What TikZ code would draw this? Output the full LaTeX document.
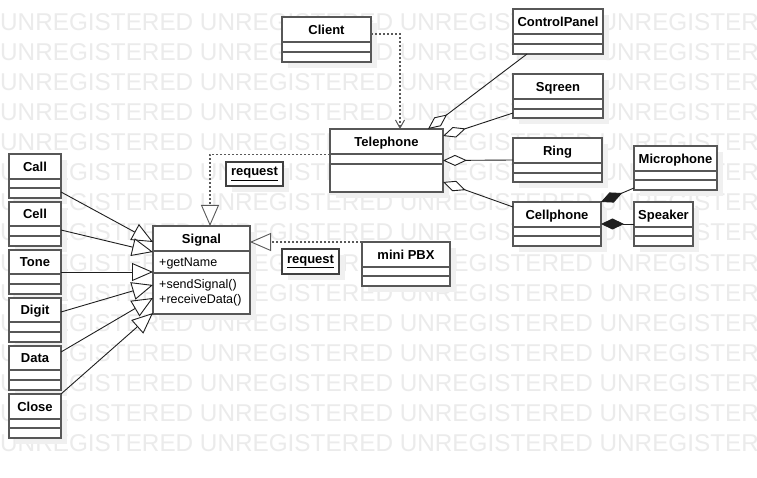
\documentclass[tikz,border=0pt]{standalone}
\usepackage{fontspec}
\setmainfont{Liberation Sans}
\usetikzlibrary{arrows.meta,fit,calc}
\newcommand\umlbox[8]{%
  \fill[shadowc] (#2+6,#3+6) rectangle (#4+6,#5+6);
  \node[clsbox, fit={(#2,#3) (#4,#5)}] (#1) {};
  \draw[clsline] (#2,#6) -- (#4,#6) (#2,#7) -- (#4,#7);
  \node[clstitle, anchor=base] at ({(#2+#4)/2},{(#3+#6)/2+4.7}) {#8};
}
\begin{document}
\begin{tikzpicture}[x=1pt,y=-1pt,
  clsbox/.style={draw=black!66, line width=1.5pt, fill=white, inner sep=0pt, outer sep=0pt},
  clsline/.style={draw=black!66, line width=1.5pt},
  shadowc/.style={fill=black!6},
  clstitle/.style={font=\fontsize{13}{15}\selectfont\bfseries, inner sep=0pt},
  member/.style={font=\fontsize{12.5}{14}\selectfont, inner sep=0pt, anchor=base west},
  wm/.style={font=\fontsize{24.3}{24.3}\selectfont, text=black!8, inner sep=0pt, anchor=base west},
  conn/.style={draw=black!88, line width=0.9pt},
  dep/.style={draw=black!65, line width=1.4pt, dash pattern=on 2pt off 2pt},
  gen/.style={conn, -{Triangle[length=21pt,width=18pt,fill=white]}},
  real/.style={dep, -{Triangle[length=21pt,width=18pt,fill=white,line width=0.9pt]}},
  use/.style={dep, -{Straight Barb[length=8pt,width=9pt,line width=1pt]}},
  agg/.style={conn, {Diamond[length=24pt,width=11pt,fill=white]}-},
  comp/.style={conn, {Diamond[length=23pt,width=11pt]}-},
  lblbox/.style={draw=black!75, line width=1.4pt, fill=white, inner sep=0pt, outer sep=0pt,
    font=\fontsize{13}{15}\selectfont\bfseries}
]
\useasboundingbox (0,0) rectangle (757,478);
\clip (0,0) rectangle (757,478);
\fill[white] (0,0) rectangle (757,478);
% watermark
\foreach \k in {0,...,14}
  \node[wm] (wm\k) at (0,{31+30*\k}) {UNREGISTERED UNREGISTERED UNREGISTERED UNREGISTERED};

% classes
\umlbox{client}{282}{17}{371}{62}{42}{52}{Client}
\umlbox{controlpanel}{513}{9}{603}{54}{34}{44}{ControlPanel}
\umlbox{sqreen}{513}{74}{603}{118}{99}{109}{Sqreen}
\umlbox{telephone}{330}{129}{443}{192}{154}{164}{Telephone}
\umlbox{ring}{513}{138}{602}{182}{163}{173}{Ring}
\umlbox{microphone}{634}{146}{717}{190}{171}{180}{Microphone}
\umlbox{cellphone}{513}{202}{601}{246}{227}{236}{Cellphone}
\umlbox{speaker}{634}{202}{693}{246}{227}{236}{Speaker}
\umlbox{call}{9}{154}{61}{198}{179}{188}{Call}
\umlbox{cell}{9}{202}{61}{246}{226}{236}{Cell}
\umlbox{tone}{9}{250}{61}{294}{274}{284}{Tone}
\umlbox{digit}{9}{298}{61}{342}{322}{332}{Digit}
\umlbox{data}{9}{346}{61}{390}{370}{380}{Data}
\umlbox{close}{9}{394}{61}{438}{419}{428}{Close}
\umlbox{signal}{153}{226}{250}{314}{251}{273}{Signal}
\umlbox{minipbx}{362}{242}{450}{286}{267}{276}{mini PBX}

\node[member] (m1) at (159,266) {+getName};
\node[member] (m2) at (159,288) {+sendSignal()};
\node[member] (m3) at (159,303.5) {+receiveData()};

% request labels
\fill[shadowc] (232,168) rectangle (289,192);
\node[lblbox, minimum width=57pt, minimum height=24pt] (req1) at (254.5,174) {\underline{request}};
\fill[shadowc] (288,255) rectangle (345,280);
\node[lblbox, minimum width=57pt, minimum height=25pt] (req2) at (310.5,261.5) {\underline{request}};

% dependencies
\draw[use] ([yshift=5.5pt]client.east) -| ([xshift=13.5pt]telephone.north);
\draw[real] ([yshift=6pt]telephone.west) -| ([xshift=8.5pt]signal.north);
\draw[real] (minipbx.north west) -- (signal.east |- minipbx.north west);

% generalizations
\draw[gen] ([yshift=6pt]call.south east) -- ([yshift=-16pt]signal.north west);
\draw[gen] ([yshift=16pt]cell.south east) -- ([yshift=-26pt]signal.north west);
\draw[gen] (tone.east) -- (signal.west |- tone.east);
\draw[gen] ([yshift=8pt]digit.east) -- ([yshift=-59pt]signal.north west);
\draw[gen] ([yshift=-6pt]data.north east) -- ([yshift=16pt]signal.south west);
\draw[gen] (close.north east) -- ([yshift=1pt]signal.south west);

% aggregations
\draw[agg] ([xshift=-15pt]telephone.north east) -- ([xshift=14pt]controlpanel.south west);
\draw[agg] ([yshift=-7pt]telephone.north east) -- ([yshift=5pt]sqreen.south west);
\draw[agg] (telephone.east) -- (ring.west);
\draw[agg] ([yshift=10pt]telephone.south east) -- ([yshift=-5pt]cellphone.north west);

% compositions
\draw[comp] (cellphone.north east) -- ([yshift=2pt]microphone.south west);
\draw[comp] (cellphone.east) -- (speaker.west);
\end{tikzpicture}
\end{document}
